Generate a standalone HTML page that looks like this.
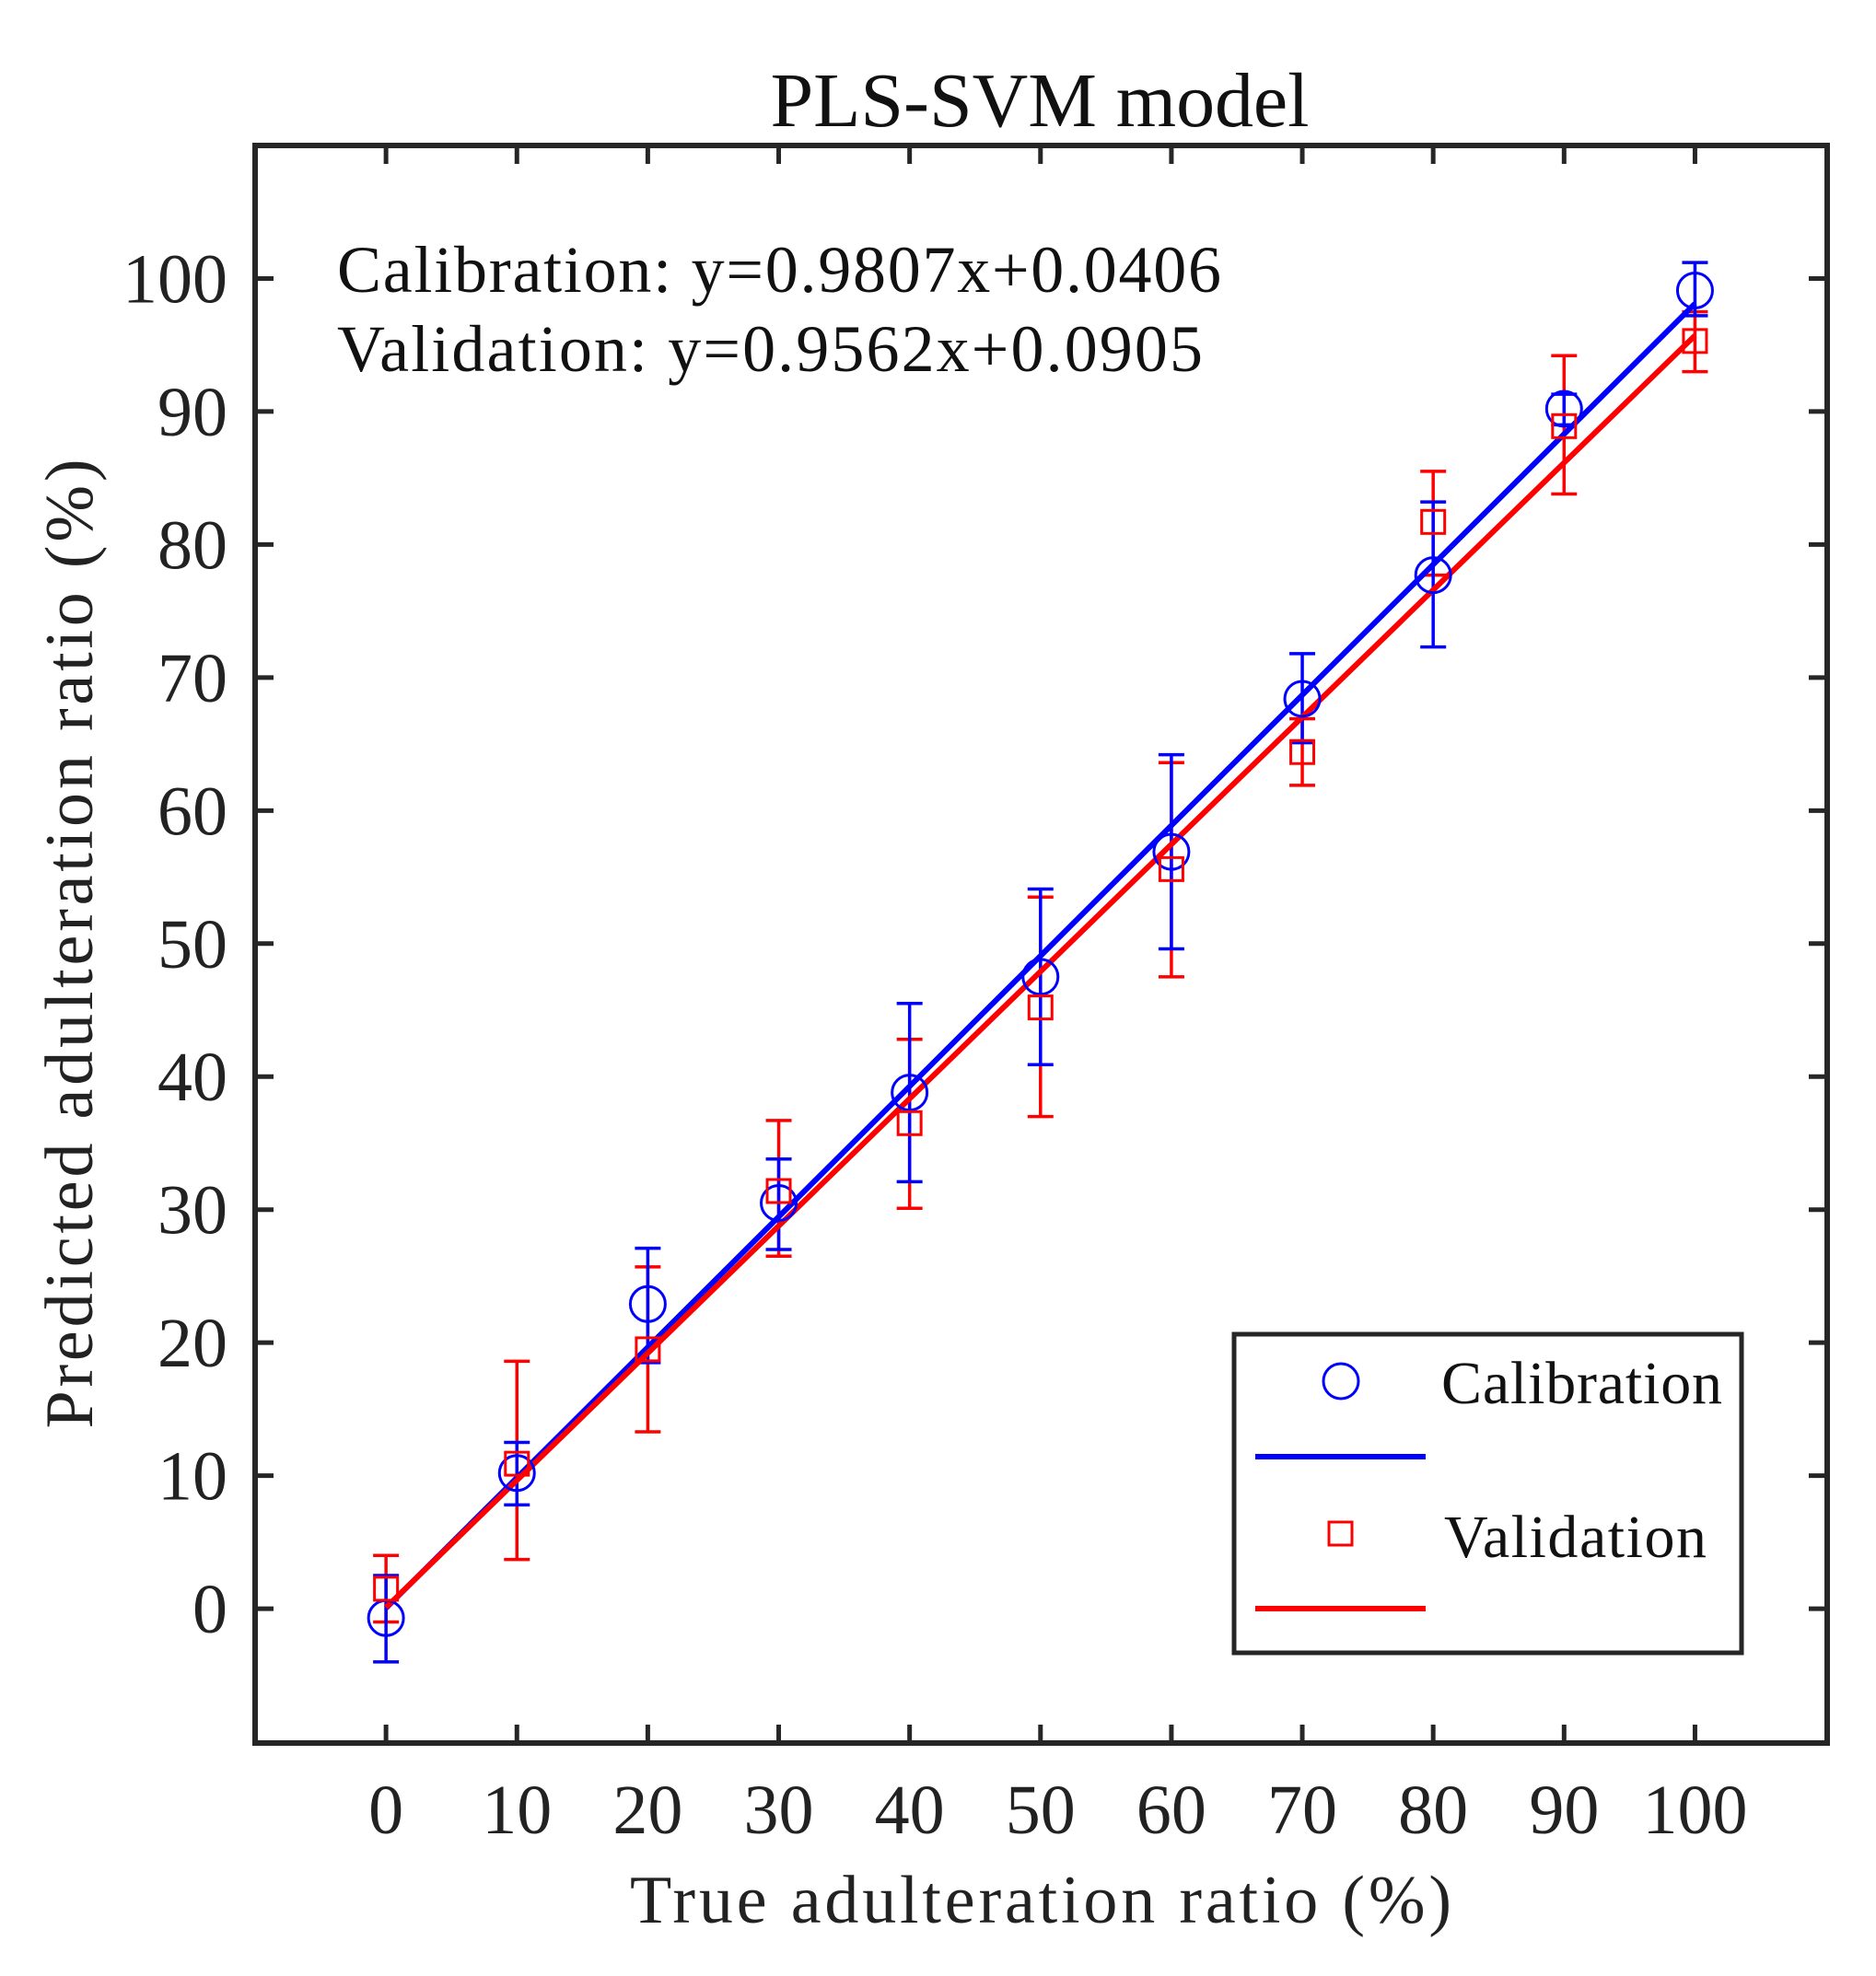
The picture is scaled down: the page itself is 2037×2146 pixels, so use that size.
<!DOCTYPE html>
<html><head><meta charset="utf-8"><style>
html,body{margin:0;padding:0;background:#fff;}
svg{display:block;font-family:"Liberation Serif",serif;}
</style></head><body>
<svg id="chart" width="2037" height="2146" viewBox="0 0 2037 2146" xmlns="http://www.w3.org/2000/svg">
<rect x="0" y="0" width="2037" height="2146" fill="#fff"/>
<text x="1129" y="137" font-size="84" text-anchor="middle" textLength="585" fill="#111">PLS-SVM model</text>
<g id="plot"></g>
<rect x="277" y="158" width="1707" height="1735" fill="none" stroke="#262626" stroke-width="6"/>
<text x="366" y="317" font-size="72" textLength="960" fill="#111">Calibration: y=0.9807x+0.0406</text>
<text x="366" y="403" font-size="72" textLength="940" fill="#111">Validation: y=0.9562x+0.0905</text>
<text x="1130" y="2088" font-size="74" text-anchor="middle" textLength="892" fill="#222">True adulteration ratio (%)</text>
<text transform="translate(100,1025) rotate(-90)" x="0" y="0" font-size="74" text-anchor="middle" textLength="1053" fill="#222">Predicted adulteration ratio (%)</text>
<g>
<rect x="1340" y="1449" width="551" height="346" fill="#fff" stroke="#262626" stroke-width="5"/>
<circle cx="1456" cy="1500" r="19" fill="none" stroke="#0000ff" stroke-width="3"/>
<text x="1565" y="1524" font-size="66" textLength="305" fill="#111">Calibration</text>
<line x1="1363" y1="1582" x2="1548" y2="1582" stroke="#0000ff" stroke-width="6"/>
<rect x="1443" y="1653" width="25" height="25" fill="none" stroke="#ff0000" stroke-width="3"/>
<text x="1568" y="1691" font-size="66" textLength="285" fill="#111">Validation</text>
<line x1="1363" y1="1747" x2="1548" y2="1747" stroke="#ff0000" stroke-width="6"/>
</g>
</svg>
<script>
const categories = [0,10,20,30,40,50,60,70,80,90,100];
const calMean = [-0.7,10.2,22.9,30.5,38.8,47.5,56.9,68.4,77.7,90.2,99.1];
const calHigh = [2.5,12.5,27.1,33.8,45.5,54.1,64.2,71.8,83.2,91.3,101.2];
const calLow = [-4.0,7.8,18.5,27.0,32.1,40.9,49.6,65.1,72.3,89.0,97.2];
const valMean = [1.5,10.9,19.5,31.4,36.5,45.2,55.6,64.4,81.7,88.9,95.3];
const valHigh = [4.0,18.6,25.7,36.7,42.8,53.5,63.6,66.9,85.5,94.2,97.5];
const valLow = [-1.0,3.7,13.3,26.5,30.1,37.0,47.5,61.9,77.7,83.8,93.0];
const calFit = [0.9807,0.0406];
const valFit = [0.9562,0.0905];
const xTicks = [0,10,20,30,40,50,60,70,80,90,100];
const yTicks = [0,10,20,30,40,50,60,70,80,90,100];

const NS='http://www.w3.org/2000/svg';
const X0=277,X1=1984,Y0=1893,Y1=158,XMIN=-10,XMAX=110.1,YMIN=-10.1,YMAX=110;
function sx(v){return X0+(v-XMIN)/(XMAX-XMIN)*(X1-X0);}
function sy(v){return Y0-(v-YMIN)/(YMAX-YMIN)*(Y0-Y1);}
const g=document.getElementById('plot');
function mk(tag,attrs){const e=document.createElementNS(NS,tag);for(const k in attrs)e.setAttribute(k,attrs[k]);g.appendChild(e);return e;}

xTicks.forEach(t=>{
  const x=sx(t);
  let l=mk('line',{x1:x,y1:Y0,x2:x,y2:Y0-20,stroke:'#262626','stroke-width':5});
  
  
  l=mk('line',{x1:x,y1:Y1,x2:x,y2:Y1+20,stroke:'#262626','stroke-width':5});
  
  
  const tx=mk('text',{x:x,y:1991,'font-size':76,'text-anchor':'middle',fill:'#222'});
  tx.textContent=t;
  
  
});
yTicks.forEach(t=>{
  const y=sy(t);
  let l=mk('line',{x1:X0,y1:y,x2:X0+20,y2:y,stroke:'#262626','stroke-width':5});
  
  
  l=mk('line',{x1:X1,y1:y,x2:X1-20,y2:y,stroke:'#262626','stroke-width':5});
  
  
  const tx=mk('text',{x:247,y:y+26,'font-size':76,'text-anchor':'end',fill:'#222'});
  tx.textContent=t;
  
  
});

function errbars(mean,hi,lo,color,name){
  categories.forEach((c,i)=>{
    const x=sx(c);
    const p=mk('path',{d:`M${x},${sy(hi[i])}V${sy(lo[i])}M${x-14},${sy(hi[i])}H${x+14}M${x-14},${sy(lo[i])}H${x+14}`,stroke:color,'stroke-width':3.5,fill:'none'});
    
    
  });
}
errbars(valMean,valHigh,valLow,'#ff0000','validation');
errbars(calMean,calHigh,calLow,'#0000ff','calibration');

function fit(f,color,name){
  const a=categories[0],b=categories[categories.length-1];
  const l=mk('line',{x1:sx(a),y1:sy(f[0]*a+f[1]),x2:sx(b),y2:sy(f[0]*b+f[1]),stroke:color,'stroke-width':6});
  
  
}
fit(calFit,'#0000ff','calibration');
fit(valFit,'#ff0000','validation');

categories.forEach((c,i)=>{
  const m=mk('circle',{cx:sx(c),cy:sy(calMean[i]),r:19,fill:'none',stroke:'#0000ff','stroke-width':3});
  
  
  const s=mk('rect',{x:sx(c)-12.5,y:sy(valMean[i])-12.5,width:25,height:25,fill:'none',stroke:'#ff0000','stroke-width':3});
  
  
});
</script>
</body></html>
